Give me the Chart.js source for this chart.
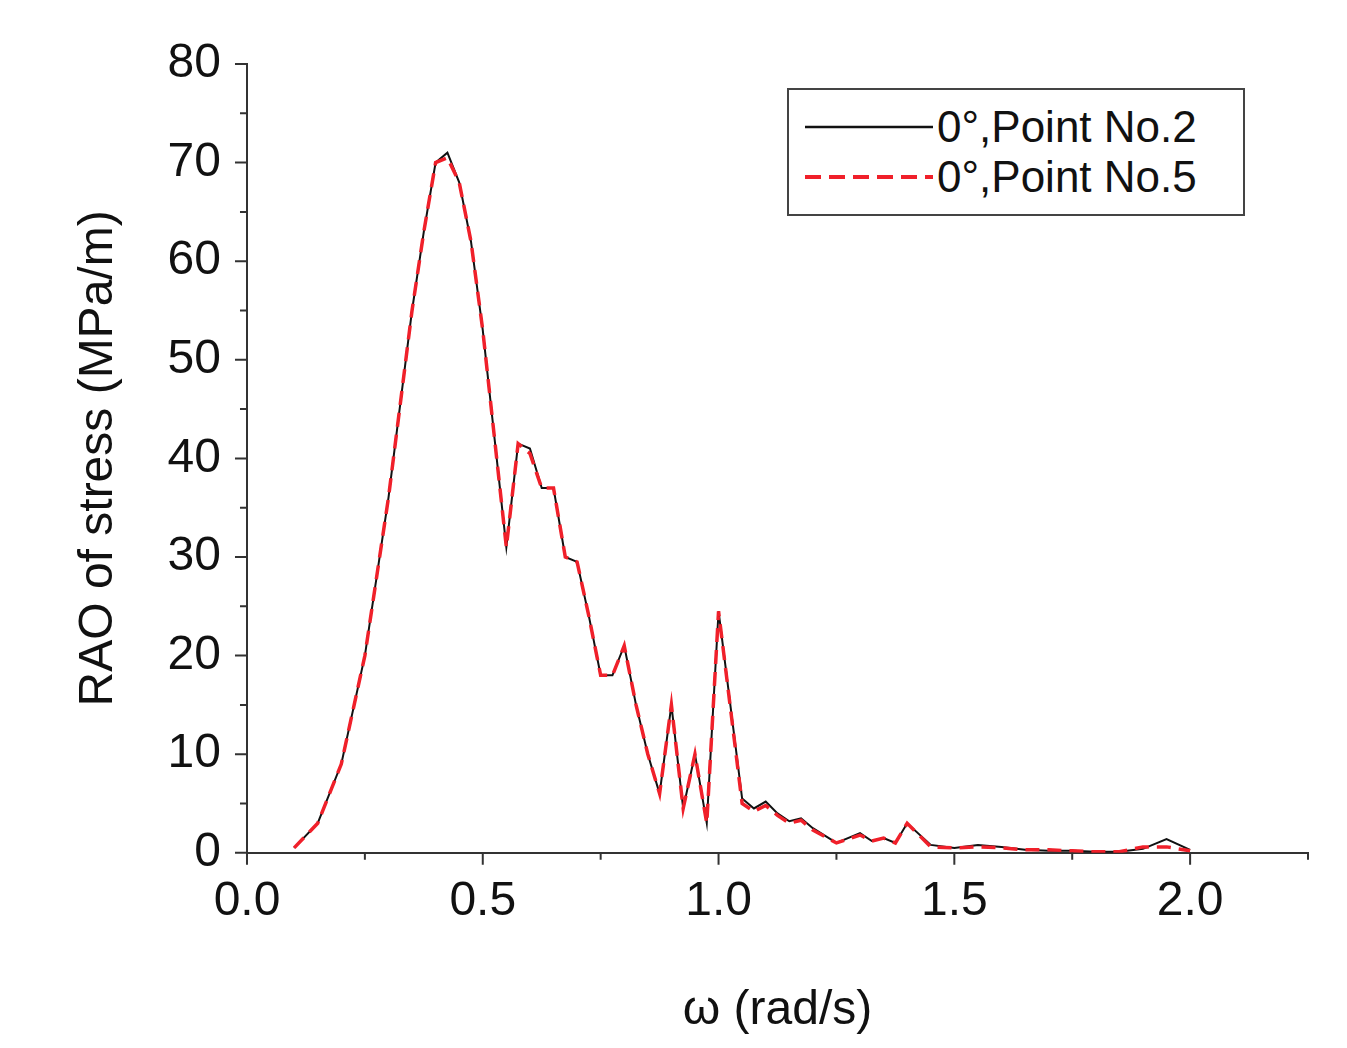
<!DOCTYPE html>
<html>
<head>
<meta charset="utf-8">
<script src="https://cdn.jsdelivr.net/npm/chart.js@4.4.0/dist/chart.umd.min.js"></script>
<style>
  body { margin: 0; background: #fff; }
  #wrap { position: relative; width: 1347px; height: 1048px; }
  #legend {
    position: absolute; left: 787px; top: 88px; width: 458px; height: 128px;
    border: 2px solid #444; background: #fff; box-sizing: border-box;
    font-family: "Liberation Sans", Arial, sans-serif; font-size: 44px; color: #111;
  }
  .row { position: absolute; left: 16px; height: 50px; display: flex; align-items: center; }
  .row span { margin-left: 4px; }
</style>
</head>
<body>
<div id="wrap">
  <canvas id="chart" width="1347" height="1048"></canvas>
  <div id="legend">
    <div class="row" style="top:12px"><svg width="128" height="10"><line x1="0" y1="5" x2="128" y2="5" stroke="#111" stroke-width="2.5"/></svg><span>0°,Point No.2</span></div>
    <div class="row" style="top:62px"><svg width="128" height="10"><line x1="0" y1="5" x2="128" y2="5" stroke="#f0202a" stroke-width="4" stroke-dasharray="16,8"/></svg><span>0°,Point No.5</span></div>
  </div>
</div>
<script>
const omega = [0.1, 0.15, 0.2, 0.25, 0.3, 0.35, 0.375, 0.4, 0.425, 0.45, 0.475, 0.5, 0.525, 0.55, 0.575, 0.6, 0.625, 0.65, 0.675, 0.7, 0.725, 0.75, 0.775, 0.8, 0.825, 0.85, 0.875, 0.9, 0.925, 0.95, 0.975, 1.0, 1.05, 1.075, 1.1, 1.125, 1.15, 1.175, 1.2, 1.25, 1.3, 1.325, 1.35, 1.375, 1.4, 1.45, 1.5, 1.55, 1.6, 1.65, 1.7, 1.75, 1.8, 1.85, 1.9, 1.95, 2.0];
const point2 = [0.5, 3, 9, 20, 36, 55, 63, 70, 71, 68, 62, 53, 42, 31, 41.5, 41, 37, 37, 30, 29.5, 24, 18, 18, 21, 15, 10, 6, 15, 4.5, 10, 3, 24.5, 5.5, 4.5, 5.2, 4, 3.2, 3.5, 2.5, 1, 2, 1.2, 1.5, 1, 3, 0.8, 0.5, 0.8, 0.6, 0.3, 0.2, 0.2, 0.1, 0.1, 0.4, 1.4, 0.3];
const point5 = [0.5, 3, 9, 20, 36, 55, 63, 70, 70.5, 68, 62, 53, 42, 31, 41.5, 40.5, 37, 37, 30, 29.5, 24, 18, 18, 21, 15, 10, 6, 15, 4.5, 10, 3, 24.5, 5, 4.2, 4.8, 3.8, 3, 3.3, 2.3, 1, 1.8, 1.2, 1.5, 1, 3, 0.6, 0.5, 0.6, 0.5, 0.3, 0.3, 0.2, 0.1, 0.1, 0.6, 0.6, 0.2];
const xTicks = [0, 0.5, 1.0, 1.5, 2.0];
const yTicks = [0, 10, 20, 30, 40, 50, 60, 70, 80];

const font = { family: "'Liberation Sans', Arial, sans-serif", size: 48 };

// draws the major/minor tick marks outside the plot, Origin style
const tickMarks = {
  id: "tickMarks",
  afterDraw(chart) {
    const { ctx, scales: { x, y }, chartArea: a } = chart;
    ctx.save();
    ctx.strokeStyle = "#333";
    ctx.lineWidth = 2;
    ctx.beginPath();
    for (let v = 0; v <= 2.25 + 1e-9; v += 0.25) {
      const px = x.getPixelForValue(v);
      const len = xTicks.some(t => Math.abs(t - v) < 1e-6) ? 12 : 7;
      ctx.moveTo(px, a.bottom); ctx.lineTo(px, a.bottom + len);
    }
    for (let v = 0; v <= 80; v += 5) {
      const py = y.getPixelForValue(v);
      const len = v % 10 === 0 ? 12 : 7;
      ctx.moveTo(a.left, py); ctx.lineTo(a.left - len, py);
    }
    ctx.stroke();
    ctx.restore();
  }
};

new Chart(document.getElementById("chart"), {
  type: "line",
  data: {
    datasets: [
      {
        label: "0°,Point No.2",
        data: omega.map((w, i) => ({ x: w, y: point2[i] })),
        borderColor: "#111", borderWidth: 2, pointRadius: 0, tension: 0, order: 1,
      },
      {
        label: "0°,Point No.5",
        data: omega.map((w, i) => ({ x: w, y: point5[i] })),
        borderColor: "#f0202a", borderWidth: 3.5, borderDash: [14, 8], pointRadius: 0, tension: 0, order: 0,
      },
    ],
  },
  options: {
    responsive: false,
    animation: false,
    layout: { padding: { left: 30, right: 39, top: 64, bottom: 0 } },
    plugins: { legend: { display: false }, tooltip: { enabled: false } },
    scales: {
      x: {
        type: "linear", min: 0, max: 2.25,
        afterBuildTicks: s => { s.ticks = xTicks.map(v => ({ value: v })); },
        ticks: { font, color: "#111", padding: 12, maxRotation: 0, callback: v => v.toFixed(1) },
        grid: { display: false },
        border: { color: "#333", width: 2 },
        title: { display: true, text: "ω (rad/s)", font, color: "#111", padding: { top: 40, bottom: 8 } },
      },
      y: {
        min: 0, max: 80,
        afterBuildTicks: s => { s.ticks = yTicks.map(v => ({ value: v })); },
        ticks: { font, color: "#111", padding: 18 },
        grid: { display: false },
        border: { color: "#333", width: 2 },
        title: { display: true, text: "RAO of stress (MPa/m)", font, color: "#111", padding: { top: 40, bottom: 22 } },
      },
    },
  },
  plugins: [tickMarks],
});
</script>
</body>
</html>
